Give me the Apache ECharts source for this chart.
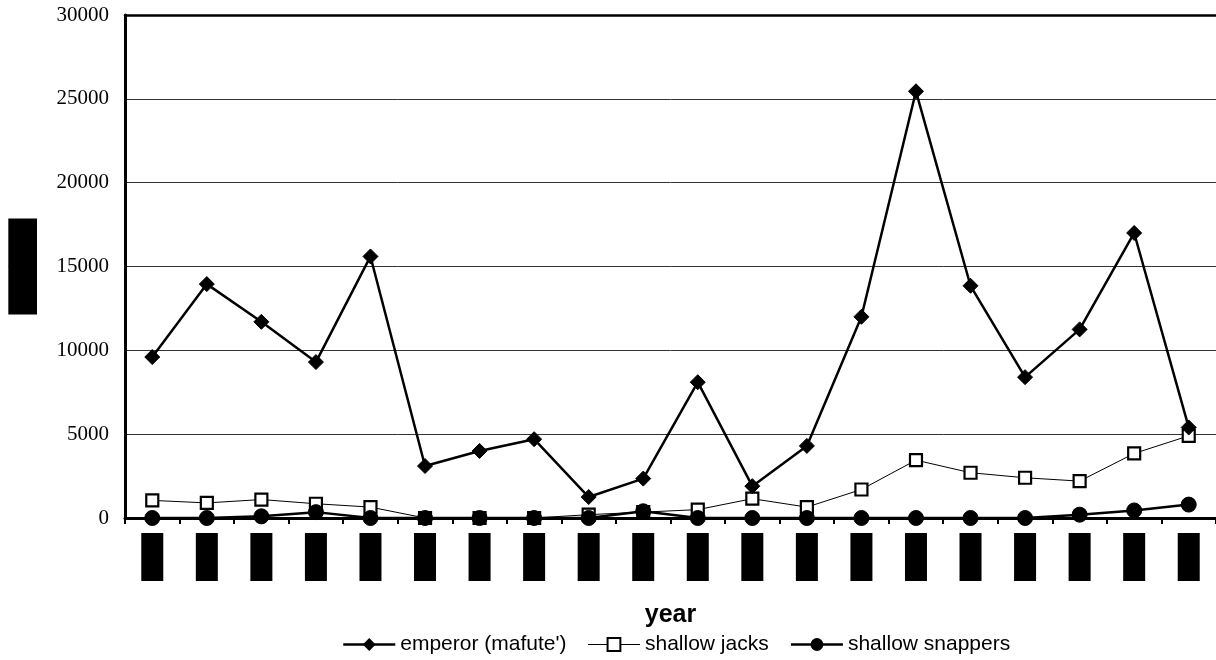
<!DOCTYPE html>
<html><head><meta charset="utf-8">
<script src="https://cdn.jsdelivr.net/npm/echarts@6/dist/echarts.min.js"></script>
<style>html,body{margin:0;padding:0;background:#fff}#c{width:1216px;height:660px}</style>
</head><body><div id="c"></div>
<script>
const categories = ['1983','1984','1985','1986','1987','1988','1989','1990','1991','1992','1993','1994','1995','1996','1997','1998','1999','2000','2001','2002'];
const emperor = [9600,13950,11700,9300,15600,3100,4000,4700,1250,2350,8100,1900,4300,12000,25450,13850,8400,11250,17000,5400];
const shallowJacks = [1050,900,1100,850,650,0,0,0,200,350,500,1150,650,1700,3450,2700,2400,2200,3850,4900];
const shallowSnappers = [0,0,100,350,0,0,0,0,0,400,0,0,0,0,0,0,0,200,450,800];
const yTicks = {min:0, max:30000, interval:5000};
const yAxisTitle = 'catch';
const xAxisTitle = 'year';

const chart = echarts.init(document.getElementById('c'));
chart.setOption({
  animation:false,
  backgroundColor:'#fff',
  grid:{left:125, top:15, width:1094, height:503, show:false},
  legend:{
    top:629, left:337, itemWidth:52, itemHeight:16, itemGap:21,
    textStyle:{fontFamily:'Liberation Sans', fontSize:21, color:'#000'},
    data:[
      {name:"emperor (mafute')", lineStyle:{width:2.5, color:'#000'}},
      {name:'shallow jacks', lineStyle:{width:1, color:'#000'}},
      {name:'shallow snappers', lineStyle:{width:2.5, color:'#000'}}
    ]
  },
  xAxis:[{
    type:'category', data:categories, boundaryGap:true,
    name:xAxisTitle, nameLocation:'middle', nameGap:85,
    nameTextStyle:{fontFamily:'Liberation Sans', fontSize:25, fontWeight:'bold', color:'#000'},
    axisLine:{lineStyle:{color:'#000', width:3}},
    axisTick:{show:true, length:6, lineStyle:{color:'#000', width:2}},
    axisLabel:{
      margin:15, interval:0,
      formatter:v=>'{b|'+v+'}',
      rich:{b:{width:22, height:48, lineHeight:48, align:'center', fontSize:8, color:'#000', backgroundColor:'#000'}}
    },
    splitLine:{show:false}
  },{
    type:'category', data:categories, position:'top', boundaryGap:true,
    axisLine:{show:true, lineStyle:{color:'#000', width:2.5}},
    axisTick:{show:false}, axisLabel:{show:false}, splitLine:{show:false}
  }],
  yAxis:{
    type:'value', min:yTicks.min, max:yTicks.max, interval:yTicks.interval,
    name:yAxisTitle, nameLocation:'middle', nameGap:88, nameRotate:0,
    nameTextStyle:{fontFamily:'Liberation Sans', fontSize:12, color:'#000', backgroundColor:'#000', width:27, height:96, lineHeight:96, align:'right', verticalAlign:'middle'},
    axisLine:{show:true, lineStyle:{color:'#000', width:3}},
    axisTick:{show:false},
    axisLabel:{margin:16, fontFamily:'Liberation Serif', fontSize:21, color:'#000', formatter:v=>String(v)},
    splitLine:{lineStyle:{color:'#333', width:1}}
  },
  series:[
    {name:"emperor (mafute')", type:'line', data:emperor, symbol:'diamond', symbolSize:15,
     lineStyle:{color:'#000', width:2.5}, itemStyle:{color:'#000', borderColor:'#000'}, z:3},
    {name:'shallow jacks', type:'line', data:shallowJacks, symbol:'rect', symbolSize:12,
     lineStyle:{color:'#000', width:1}, itemStyle:{color:'#fff', borderColor:'#000', borderWidth:2.2}, z:2},
    {name:'shallow snappers', type:'line', data:shallowSnappers, symbol:'circle', symbolSize:15,
     lineStyle:{color:'#000', width:2.5}, itemStyle:{color:'#000', borderColor:'#000'}, z:4}
  ]
});
</script></body></html>
